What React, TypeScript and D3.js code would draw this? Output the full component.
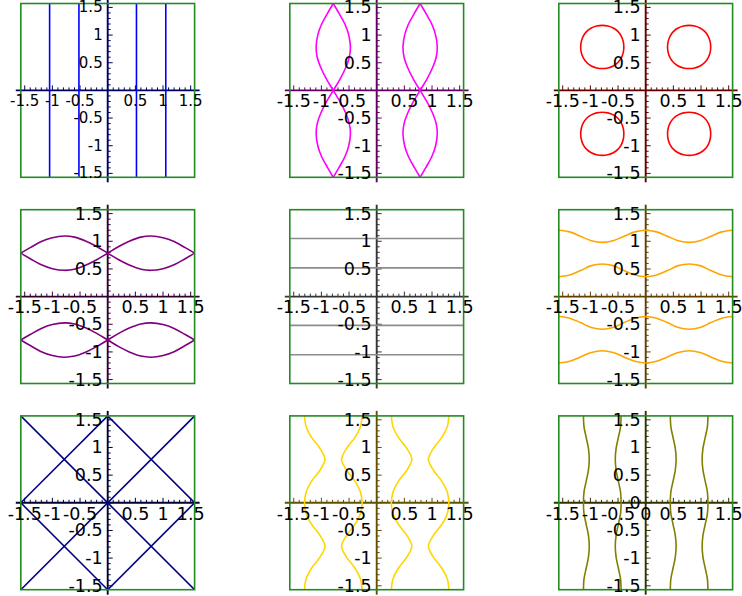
import React from "react";
import * as d3 from "d3";

// ---------- data (units on both axes) ----------
const HALF = 1.5708; // plot range is [-HALF, HALF] on both axes

const MAJOR_TICKS = [-1.5, -1, -0.5, 0.5, 1, 1.5];
const MAJOR_TICKS_WITH_ZERO = [-1.5, -1, -0.5, 0, 0.5, 1, 1.5];

// panel 1: vertical lines (blue)
const P1_X = [-1.05, -0.52, 0.52, 1.05];

// panels 2 & 4: crossing lens chains, sampled along the chain axis
const LENS_T = [-1.571, -1.4, -1.2, -1.0, -0.785, -0.6, -0.4, -0.2, 0, 0.2, 0.4, 0.6, 0.785, 1.0, 1.2, 1.4, 1.571];
const LENS_OFFSET = [0, -0.1, -0.21, -0.28, -0.31, -0.29, -0.22, -0.12, 0, 0.12, 0.22, 0.29, 0.31, 0.28, 0.21, 0.1, 0];
const LENS_CENTERS = [-0.785, 0.785];

// panel 3: closed loops (red)
const LOOP_CENTERS = [-0.785, 0.785];
const LOOP_ANGLE_DEG = [0, 15, 30, 45, 60, 75, 90, 105, 120, 135, 150, 165, 180, 195, 210, 225, 240, 255, 270, 285, 300, 315, 330, 345];
const LOOP_RADIUS = [0.39, 0.392, 0.396, 0.398, 0.396, 0.392, 0.39, 0.392, 0.396, 0.398, 0.396, 0.392, 0.39, 0.392, 0.396, 0.398, 0.396, 0.392, 0.39, 0.392, 0.396, 0.398, 0.396, 0.392];

// panel 5: horizontal lines (gray)
const P5_Y = [-1.05, -0.52, 0.52, 1.05];

// panels 6, 8, 9: wavy curves sampled every pi/16 across the range
const WAVE_T = [-1.571, -1.374, -1.178, -0.982, -0.785, -0.589, -0.393, -0.196, 0, 0.196, 0.393, 0.589, 0.785, 0.982, 1.178, 1.374, 1.571];
const P6_OUTER = [1.2, 1.17, 1.09, 1.01, 0.98, 1.01, 1.09, 1.17, 1.2, 1.17, 1.09, 1.01, 0.98, 1.01, 1.09, 1.17, 1.2];
const P6_INNER = [0.36, 0.39, 0.47, 0.56, 0.59, 0.56, 0.47, 0.39, 0.36, 0.39, 0.47, 0.56, 0.59, 0.56, 0.47, 0.39, 0.36];
const P8_CENTERS = [-0.785, 0.785];
const P8_OFFSET = [0.52, 0.49, 0.39, 0.24, 0.15, 0.24, 0.39, 0.49, 0.52, 0.49, 0.39, 0.24, 0.15, 0.24, 0.39, 0.49, 0.52];
const P9_CENTERS = [-0.785, 0.785];
const P9_OFFSET = [0.34, 0.33, 0.29, 0.25, 0.235, 0.25, 0.29, 0.33, 0.34, 0.33, 0.29, 0.25, 0.235, 0.25, 0.29, 0.33, 0.34];

// panel 7: straight segments (navy)
const P7_SEGMENTS: [number, number][][] = [
  [[-HALF, HALF], [HALF, -HALF]],
  [[-HALF, -HALF], [HALF, HALF]],
  [[-HALF, 0], [0, HALF]],
  [[0, HALF], [HALF, 0]],
  [[HALF, 0], [0, -HALF]],
  [[0, -HALF], [-HALF, 0]],
];

const COLORS = ["#0000ff", "#ff00ff", "#ff0000", "#800080", "#8c8c8c", "#ffa500", "#000080", "#ffd700", "#808000"];

// ---------- layout ----------
const COL_CENTERS = [107.7, 376.7, 645.7];
const ROW_CENTERS = [90.4, 296.6, 502.8];
const HALF_PX = 86.9;

type Pt = [number, number];
type Curve = { pts: Pt[]; closed?: boolean; straight?: boolean };

function buildCurves(i: number): Curve[] {
  const out: Curve[] = [];
  switch (i) {
    case 0:
      P1_X.forEach((x) => out.push({ pts: [[x, -HALF], [x, HALF]], straight: true }));
      break;
    case 1:
      LENS_CENTERS.forEach((c) =>
        [1, -1].forEach((s) => out.push({ pts: LENS_T.map((t, k) => [c + s * LENS_OFFSET[k], t] as Pt) }))
      );
      break;
    case 2:
      LOOP_CENTERS.forEach((cx) =>
        LOOP_CENTERS.forEach((cy) =>
          out.push({
            closed: true,
            pts: LOOP_ANGLE_DEG.map((a, k) => {
              const r = LOOP_RADIUS[k];
              const rad = (a * Math.PI) / 180;
              return [cx + r * Math.cos(rad), cy + r * Math.sin(rad)] as Pt;
            }),
          })
        )
      );
      break;
    case 3:
      LENS_CENTERS.forEach((c) =>
        [1, -1].forEach((s) => out.push({ pts: LENS_T.map((t, k) => [t, c + s * LENS_OFFSET[k]] as Pt) }))
      );
      break;
    case 4:
      P5_Y.forEach((y) => out.push({ pts: [[-HALF, y], [HALF, y]], straight: true }));
      break;
    case 5:
      [1, -1].forEach((s) => {
        out.push({ pts: WAVE_T.map((t, k) => [t, s * P6_OUTER[k]] as Pt) });
        out.push({ pts: WAVE_T.map((t, k) => [t, s * P6_INNER[k]] as Pt) });
      });
      break;
    case 6:
      P7_SEGMENTS.forEach((seg) => out.push({ pts: seg, straight: true }));
      break;
    case 7:
      P8_CENTERS.forEach((c) =>
        [1, -1].forEach((s) => out.push({ pts: WAVE_T.map((t, k) => [c + s * P8_OFFSET[k], t] as Pt) }))
      );
      break;
    case 8:
      P9_CENTERS.forEach((c) =>
        [1, -1].forEach((s) => out.push({ pts: WAVE_T.map((t, k) => [c + s * P9_OFFSET[k], t] as Pt) }))
      );
      break;
  }
  return out;
}

const MINOR = d3.range(-15, 16).map((i) => i / 10);

function Panel({ i }: { i: number }) {
  const cx = COL_CENTERS[i % 3];
  const cy = ROW_CENTERS[Math.floor(i / 3)];
  const x = d3.scaleLinear().domain([-HALF, HALF]).range([cx - HALF_PX, cx + HALF_PX]);
  const y = d3.scaleLinear().domain([-HALF, HALF]).range([cy + HALF_PX, cy - HALF_PX]);
  const color = COLORS[i];
  const axisColor = d3.interpolateRgb(color, "#000")(0.62);
  const fontSize = i === 0 ? 15 : 17.5;
  const ticks = i === 8 ? MAJOR_TICKS_WITH_ZERO : MAJOR_TICKS;
  const x0 = x(0);
  const y0 = y(0);
  const ext = 5;
  const clipId = `clip${i}`;
  const curves = buildCurves(i);
  const lineSmooth = d3.line<Pt>().x((d) => x(d[0])).y((d) => y(d[1])).curve(d3.curveCatmullRom.alpha(0.5));
  const lineStraight = d3.line<Pt>().x((d) => x(d[0])).y((d) => y(d[1]));
  const lineClosed = d3.line<Pt>().x((d) => x(d[0])).y((d) => y(d[1])).curve(d3.curveCatmullRomClosed.alpha(0.5));
  return (
    <g>
      <defs>
        <clipPath id={clipId}>
          <rect x={x(-HALF)} y={y(HALF)} width={x(HALF) - x(-HALF)} height={y(-HALF) - y(HALF)} />
        </clipPath>
      </defs>
      {/* axes */}
      <line x1={x(-HALF) - ext} x2={x(HALF) + ext} y1={y0} y2={y0} stroke={axisColor} strokeWidth={1.9} />
      <line x1={x0} x2={x0} y1={y(HALF) - ext} y2={y(-HALF) + ext} stroke={axisColor} strokeWidth={1.9} />
      {MINOR.map((v) => {
        const major = Math.abs(v * 2 - Math.round(v * 2)) < 1e-6;
        const len = major ? 5 : 3;
        return (
          <g key={v}>
            <line x1={x(v)} x2={x(v)} y1={y0} y2={y0 - len} stroke={axisColor} strokeWidth={1} />
            <line x1={x0} x2={x0 + len} y1={y(v)} y2={y(v)} stroke={axisColor} strokeWidth={1} />
          </g>
        );
      })}
      {/* curves */}
      <g clipPath={`url(#${clipId})`}>
        {curves.map((c, k) => (
          <path
            key={k}
            d={(c.closed ? lineClosed : c.straight ? lineStraight : lineSmooth)(c.pts) || ""}
            fill="none"
            stroke={color}
            strokeWidth={1.6}
          />
        ))}
      </g>
      {/* frame */}
      <rect
        x={x(-HALF)}
        y={y(HALF)}
        width={x(HALF) - x(-HALF)}
        height={y(-HALF) - y(HALF)}
        fill="none"
        stroke="#228b22"
        strokeWidth={1.6}
      />
      {/* tick labels */}
      <g fontFamily="DejaVu Sans" fontSize={fontSize} fill="#000">
        {ticks.map((v) => (
          <text key={"x" + v} x={x(v)} y={y0 + 4} textAnchor="middle" dominantBaseline="hanging">
            {String(v)}
          </text>
        ))}
        {ticks.map((v) => (
          <text key={"y" + v} x={x0 - 5} y={y(v)} textAnchor="end" dominantBaseline="central">
            {String(v)}
          </text>
        ))}
      </g>
    </g>
  );
}

export default function App() {
  return (
    <svg
      width={742}
      height={596}
      viewBox="0 0 742 596"
      style={{ position: "absolute", left: 0, top: 0, background: "#fff" }}
    >
      <rect width={742} height={596} fill="#fff" />
      {d3.range(9).map((i) => (
        <Panel key={i} i={i} />
      ))}
    </svg>
  );
}
